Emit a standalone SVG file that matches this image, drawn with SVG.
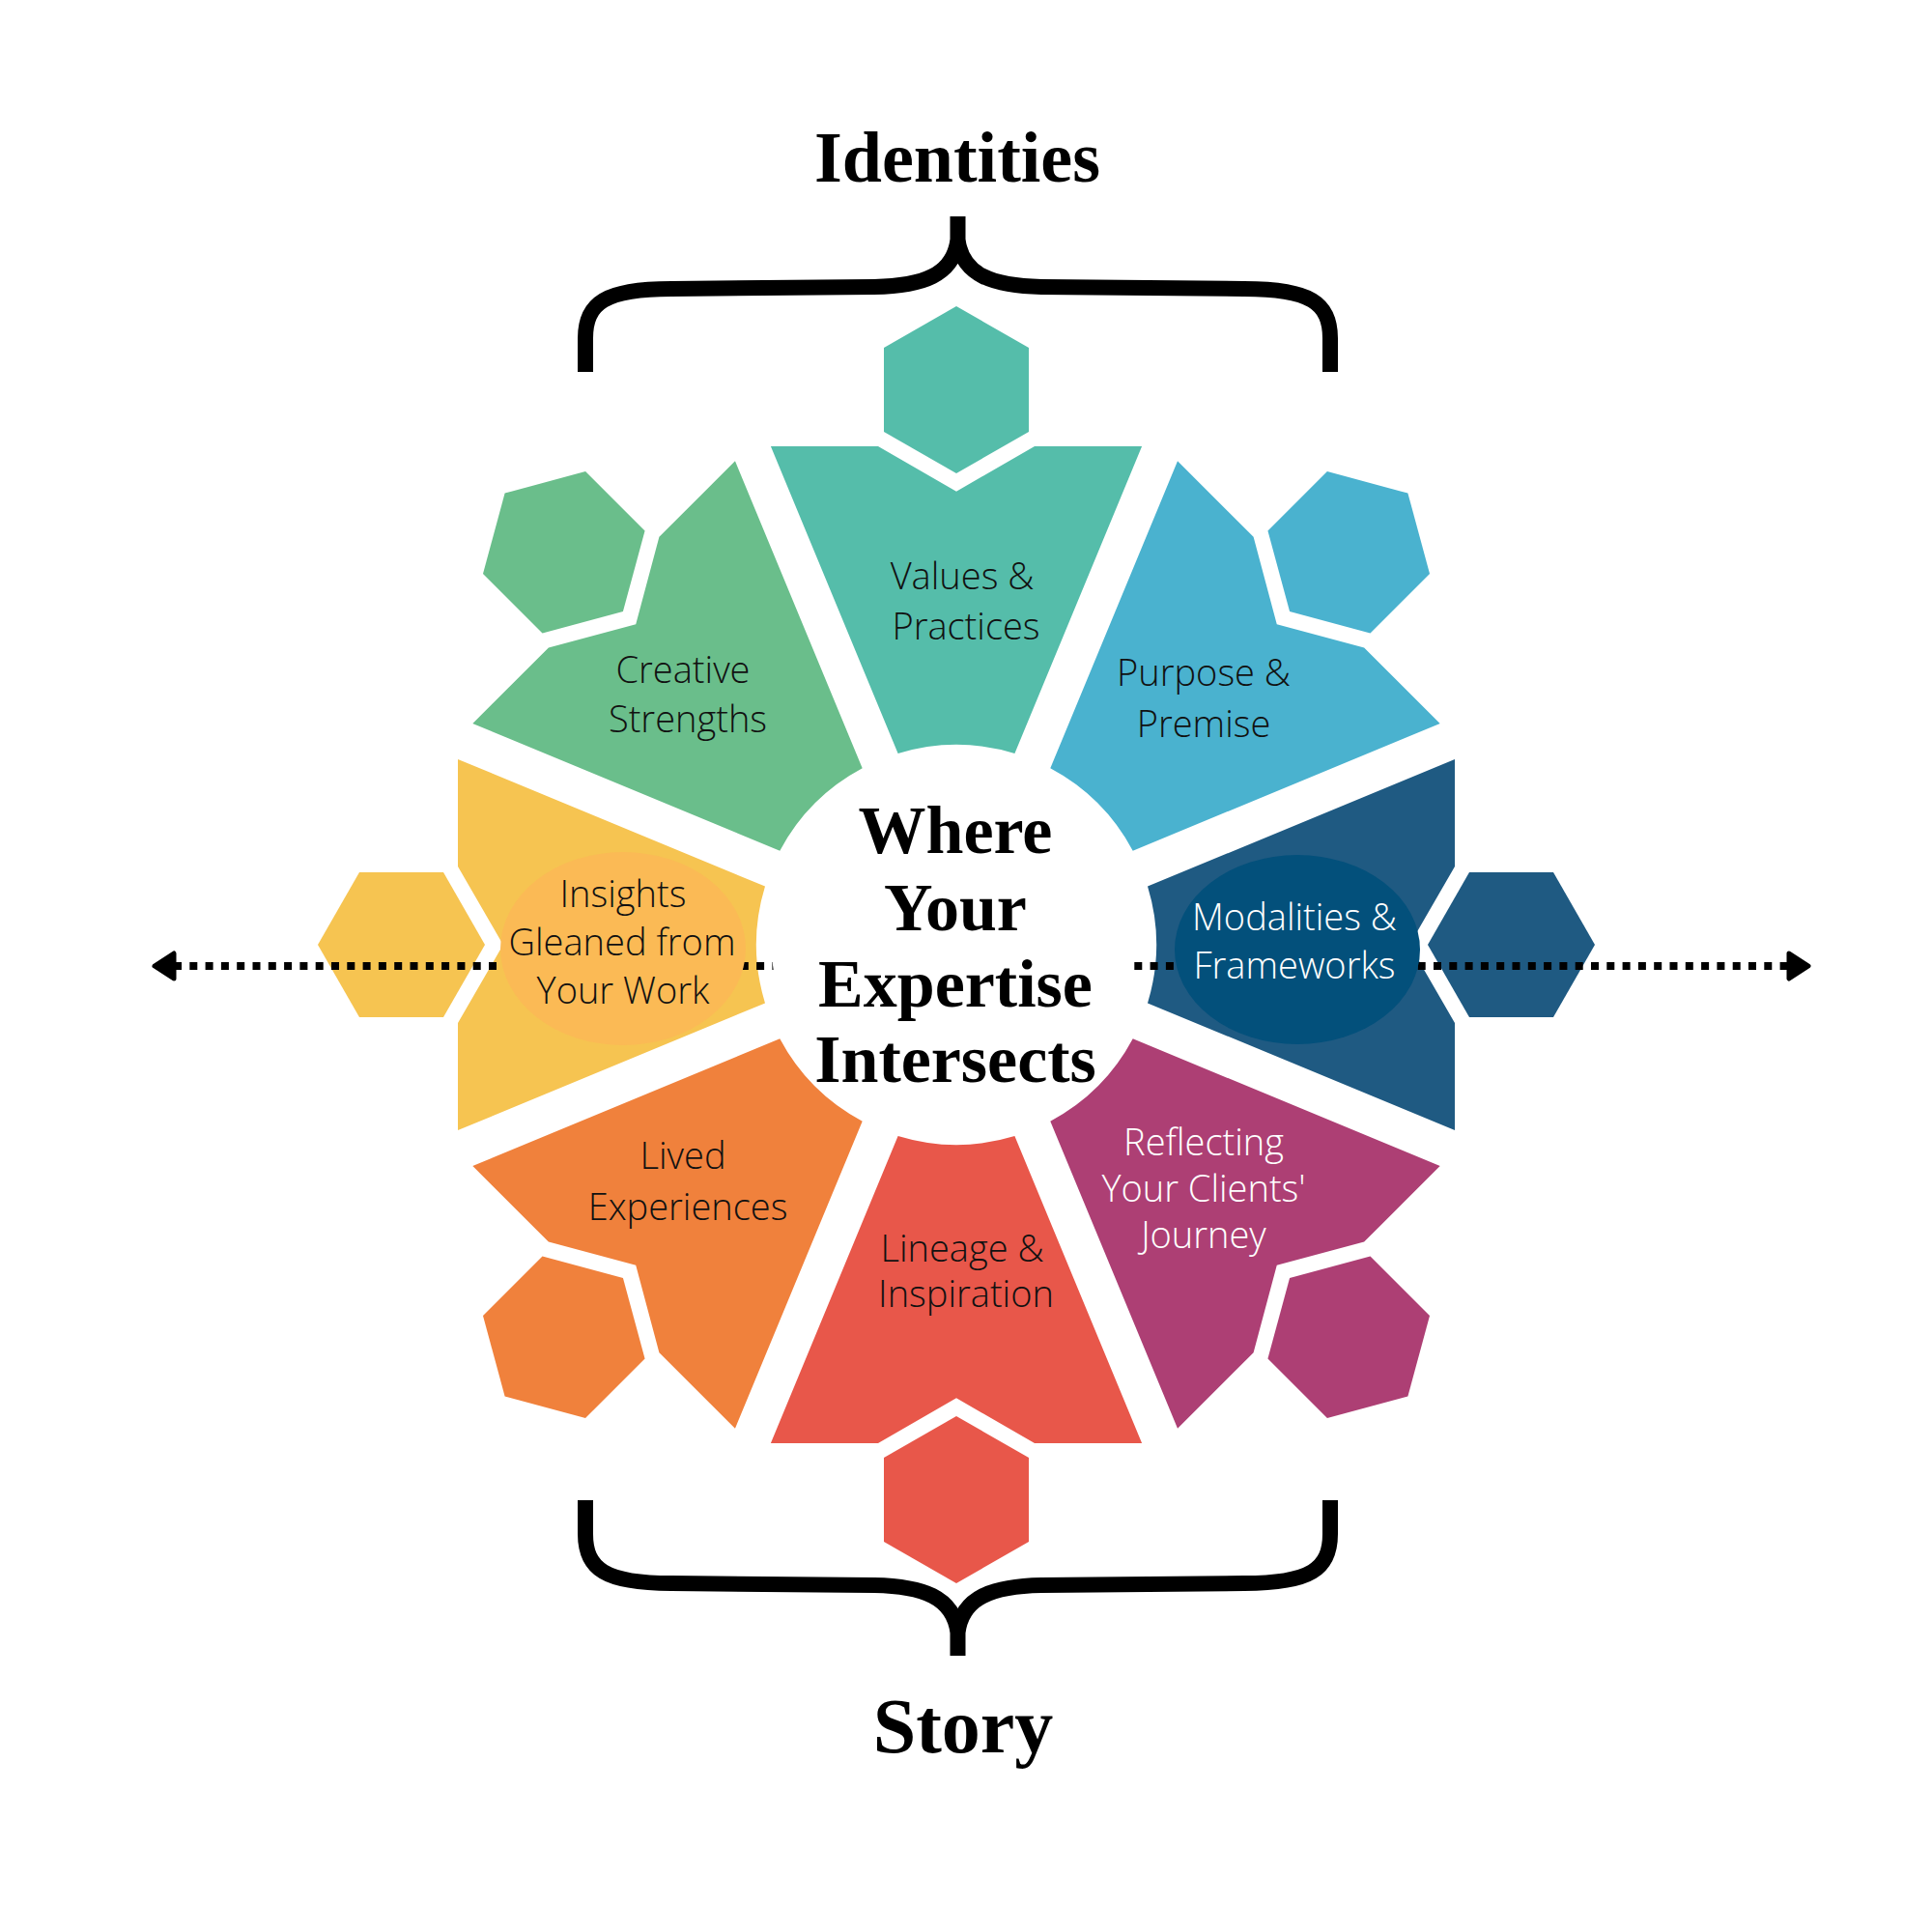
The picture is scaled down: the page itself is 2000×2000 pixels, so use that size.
<svg xmlns="http://www.w3.org/2000/svg" xmlns:xlink="http://www.w3.org/1999/xlink" width="2000" height="2000" viewBox="0 0 2000 2000">
  <style>
    .teal{fill:#55BDAA}
    .lblue{fill:#4AB2CF}
    .dblue{fill:#1F5A82}
    .purple{fill:#AD3F74}
    .red{fill:#E8574A}
    .orange{fill:#F0813C}
    .yellow{fill:#F6C451}
    .green{fill:#6ABE8B}
    .label{font-family:"Open Sans","Lato","DejaVu Sans",sans-serif;font-size:38px;font-weight:300;text-anchor:middle;fill:#111111}
    .label.light{fill:#FFFFFF}
    .title{font-family:"Liberation Serif","Times New Roman",serif;font-weight:bold;text-anchor:middle;fill:#000000}
    .brace{fill:none;stroke:#000000;stroke-width:16;stroke-linecap:butt;stroke-linejoin:round}
    .dots{fill:none;stroke:#000000;stroke-width:8;stroke-dasharray:8 8.3}
  </style>
  <defs>
    <path id="petal" d="M -192.1,-516 L -81,-516 L 0,-469.2 L 81,-516 L 192.1,-516 L 60.4,-198 A 207 207 0 0 0 -60.4,-198 Z"/>
    <polygon id="hex" points="0,-661 75,-618 75,-531 0,-488 -75,-531 -75,-618"/>
    <path id="brace" d="M 606,385 V 350 C 606,314 626,299 695,299 L 905,297 C 955,296 987,285 991.5,248 V 224 M 1377,385 V 350 C 1377,314 1357,299 1288,299 L 1078,297 C 1028,296 996,285 991.5,248 V 224"/>
    <marker id="arrowhead" markerUnits="userSpaceOnUse" viewBox="-4 -17 28 34" refX="0" refY="0" markerWidth="28" markerHeight="34" orient="auto-start-reverse">
      <path d="M 0,-13 L 20,0 L 0,13 Z" fill="#000000" stroke="#000000" stroke-width="5" stroke-linejoin="round" stroke-dasharray="none"/>
    </marker>
  </defs>

  <rect x="0" y="0" width="2000" height="2000" fill="#FFFFFF"/>

  <!-- headings and braces -->
  <g id="identities">
    <text class="title" x="991" y="188" font-size="74">Identities</text>
    <use xlink:href="#brace" href="#brace" class="brace"/>
  </g>
  <g id="story">
    <use xlink:href="#brace" href="#brace" class="brace" transform="translate(0 1938) scale(1 -1)"/>
    <text class="title" x="997" y="1814" font-size="80">Story</text>
  </g>

  <!-- petal nodes (shapes) -->
  <g id="node-values" transform="translate(990 978) rotate(0)">
    <use href="#petal" xlink:href="#petal" class="teal"/><use href="#hex" xlink:href="#hex" class="teal"/>
  </g>
  <g id="node-purpose" transform="translate(990 978) rotate(45)">
    <use href="#petal" xlink:href="#petal" class="lblue"/><use href="#hex" xlink:href="#hex" class="lblue"/>
  </g>
  <g id="node-modalities" transform="translate(990 978) rotate(90)">
    <use href="#petal" xlink:href="#petal" class="dblue"/><use href="#hex" xlink:href="#hex" class="dblue"/>
  </g>
  <g id="node-reflecting" transform="translate(990 978) rotate(135)">
    <use href="#petal" xlink:href="#petal" class="purple"/><use href="#hex" xlink:href="#hex" class="purple"/>
  </g>
  <g id="node-lineage" transform="translate(990 978) rotate(180)">
    <use href="#petal" xlink:href="#petal" class="red"/><use href="#hex" xlink:href="#hex" class="red"/>
  </g>
  <g id="node-lived" transform="translate(990 978) rotate(225)">
    <use href="#petal" xlink:href="#petal" class="orange"/><use href="#hex" xlink:href="#hex" class="orange"/>
  </g>
  <g id="node-insights" transform="translate(990 978) rotate(270)">
    <use href="#petal" xlink:href="#petal" class="yellow"/><use href="#hex" xlink:href="#hex" class="yellow"/>
  </g>
  <g id="node-creative" transform="translate(990 978) rotate(315)">
    <use href="#petal" xlink:href="#petal" class="green"/><use href="#hex" xlink:href="#hex" class="green"/>
  </g>

  <!-- connectors -->
  <g id="connectors">
    <line class="dots" x1="180" y1="1000" x2="1852" y2="1000" marker-start="url(#arrowhead)" marker-end="url(#arrowhead)"/>
  </g>

  <!-- overlays -->
  <g id="overlays">
    <ellipse cx="645" cy="982" rx="127" ry="100" fill="#FBBA55"/>
    <ellipse cx="1343" cy="983" rx="127" ry="98" fill="#03507B"/>
    <circle id="center-disc" cx="985" cy="980" r="186" fill="#FFFFFF"/>
  </g>

  <!-- labels -->
  <g id="label-values"><text class="label"><tspan x="996" y="610">Values &amp;</tspan><tspan x="1000" y="662">Practices</tspan></text></g>
  <g id="label-purpose"><text class="label"><tspan x="1246" y="710">Purpose &amp;</tspan><tspan x="1246" y="763">Premise</tspan></text></g>
  <g id="label-modalities"><text class="label light"><tspan x="1340" y="963">Modalities &amp;</tspan><tspan x="1340" y="1013">Frameworks</tspan></text></g>
  <g id="label-reflecting"><text class="label light"><tspan x="1246" y="1196">Reflecting</tspan><tspan x="1246" y="1244">Your Clients'</tspan><tspan x="1246" y="1292">Journey</tspan></text></g>
  <g id="label-lineage"><text class="label"><tspan x="996" y="1306">Lineage &amp;</tspan><tspan x="1000" y="1353">Inspiration</tspan></text></g>
  <g id="label-lived"><text class="label"><tspan x="707" y="1210">Lived</tspan><tspan x="712" y="1263">Experiences</tspan></text></g>
  <g id="label-insights"><text class="label"><tspan x="645" y="939">Insights</tspan><tspan x="644" y="989">Gleaned from</tspan><tspan x="645" y="1039">Your Work</tspan></text></g>
  <g id="label-creative"><text class="label"><tspan x="707" y="707">Creative</tspan><tspan x="712" y="758">Strengths</tspan></text></g>

  <g id="center">
    <text class="title" font-size="70"><tspan x="989" y="883">Where</tspan><tspan x="989" y="963">Your</tspan><tspan x="989" y="1042">Expertise</tspan><tspan x="989" y="1120">Intersects</tspan></text>
  </g>
</svg>
